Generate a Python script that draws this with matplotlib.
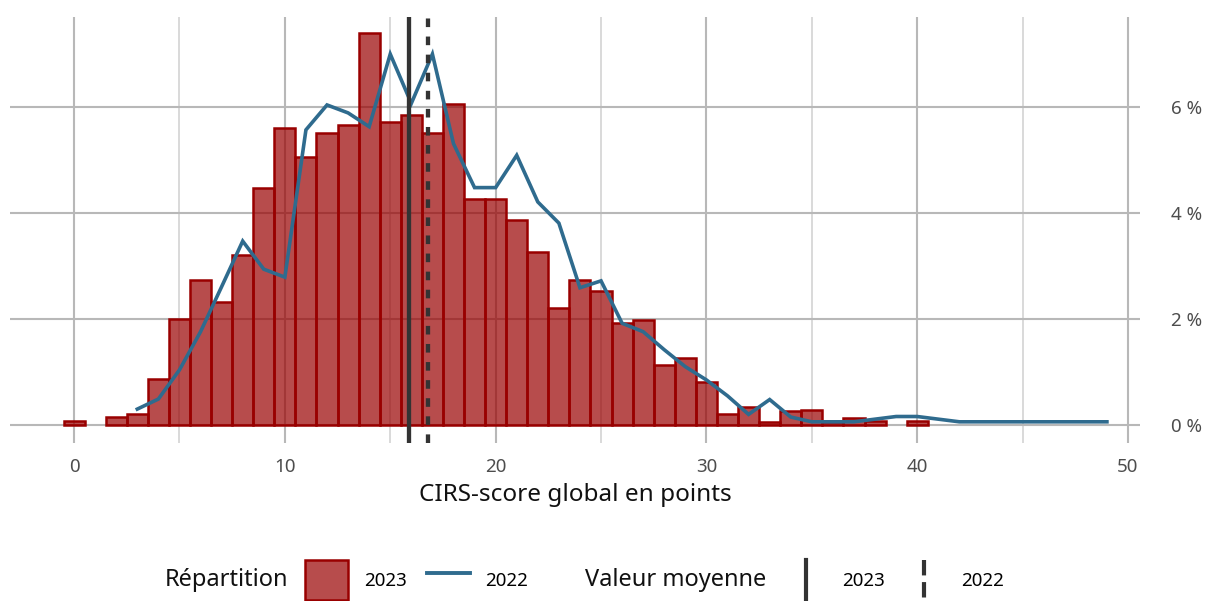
import matplotlib
matplotlib.use("Agg")
import matplotlib.pyplot as plt
from matplotlib.patches import Rectangle
from matplotlib.lines import Line2D
from matplotlib.legend_handler import HandlerBase
from matplotlib.ticker import FuncFormatter, MultipleLocator

plt.rcParams['font.family'] = ['Noto Sans', 'DejaVu Sans']

# ---- data ----
scores_2023 = list(range(0, 41))
share_2023 = [0.07, 0.0, 0.15, 0.21, 0.87, 2.00, 2.74, 2.33, 3.21, 4.47,
              5.60, 5.06, 5.52, 5.66, 7.40, 5.72, 5.85, 5.52, 6.06, 4.26,
              4.26, 3.87, 3.27, 2.20, 2.74, 2.53, 1.92, 1.99, 1.13, 1.26,
              0.82, 0.21, 0.33, 0.06, 0.27, 0.28, 0.05, 0.13, 0.07, 0.0,
              0.07]
scores_2022 = list(range(3, 50))
share_2022 = [0.30, 0.49, 1.04, 1.76, 2.61, 3.47, 2.94, 2.79, 5.57, 6.04,
              5.89, 5.63, 7.00, 6.07, 7.00, 5.31, 4.48, 4.48, 5.09, 4.21,
              3.81, 2.59, 2.72, 1.92, 1.76, 1.42, 1.10, 0.85, 0.55, 0.20,
              0.48, 0.15, 0.06, 0.06, 0.06, 0.11, 0.16, 0.16, 0.11, 0.06,
              0.06, 0.06, 0.06, 0.06, 0.06, 0.06, 0.06]
mean_2023 = 15.9
mean_2022 = 16.8
x_ticks = [0, 10, 20, 30, 40, 50]
y_ticks = [0, 2, 4, 6]
x_label = "CIRS-score global en points"
legend_title_1 = "Répartition"
legend_title_2 = "Valeur moyenne"
year_labels = ["2023", "2022"]

# ---- style ----
bar_color = "#990000"
line_color = "#2f6b8e"
mean_color = "#333333"
grid_major = "#b8b8b8"
grid_minor = "#cfcfcf"
dash = (0, (2.0, 2.2))

fig = plt.figure(figsize=(12.07, 6.01), dpi=100)
ax = fig.add_axes([10/1207, 1-443/601, (1140-10)/1207, (443-17)/601])

xs = [s for s, v in zip(scores_2023, share_2023) if v > 0]
vs = [v for v in share_2023 if v > 0]
ax.bar(xs, vs, width=1.0, color=bar_color, alpha=0.7, edgecolor='none', zorder=2)
ax.bar(xs, vs, width=1.0, fill=False, edgecolor=bar_color, linewidth=1.8, zorder=3)
ax.plot(scores_2022, share_2022, color=line_color, lw=2.6, zorder=4,
        solid_joinstyle='miter')
ax.axvline(mean_2023, color=mean_color, lw=3.1, zorder=5)
ax.axvline(mean_2022, color=mean_color, lw=3.1, ls=dash, zorder=5)

ax.set_xlim(-3.04, 50.57)
ax.set_ylim(-0.34, 7.70)
ax.set_xticks(x_ticks)
ax.xaxis.set_minor_locator(MultipleLocator(5))
ax.set_yticks(y_ticks)
ax.yaxis.tick_right()
ax.yaxis.set_major_formatter(FuncFormatter(lambda v, p: f"{v:.0f} %"))
ax.grid(True, which='major', color=grid_major, lw=1.5, zorder=0)
ax.grid(True, which='minor', axis='x', color=grid_minor, lw=1.1, zorder=0)
ax.set_axisbelow(True)
for s in ax.spines.values():
    s.set_visible(False)
ax.tick_params(axis='both', which='both', length=0, labelsize=13.5, colors='#4d4d4d')
ax.tick_params(axis='x', pad=11)
ax.tick_params(axis='y', pad=22)
ax.set_xlabel(x_label, fontsize=17.5, color='#111111', labelpad=5)


class VLineHandler(HandlerBase):
    def create_artists(self, legend, orig_handle, xdescent, ydescent, width,
                       height, fontsize, trans):
        x = -xdescent + width / 2
        l = Line2D([x, x], [-ydescent + height, -ydescent],
                   color=orig_handle.get_color(), lw=orig_handle.get_linewidth(),
                   linestyle=orig_handle.get_linestyle(), transform=trans)
        return [l]


ly = 1 - 580/601
fig.text(165/1207, ly, legend_title_1, fontsize=17, va='center', ha='left', color='#111111')
fig.text(585/1207, ly, legend_title_2, fontsize=17, va='center', ha='left', color='#111111')

h1 = [Rectangle((0, 0), 1, 1, facecolor=(0.6, 0, 0, 0.7), edgecolor=bar_color, lw=1.8),
      Line2D([], [], color=line_color, lw=2.8)]
leg1 = fig.legend(h1, year_labels, loc='center left', bbox_to_anchor=(305/1207, ly),
                  ncol=2, frameon=False, fontsize=13.5, handlelength=2.3, handleheight=2.9,
                  handletextpad=0.85, columnspacing=1.05, borderpad=0, borderaxespad=0)
h2 = [Line2D([], [], color=mean_color, lw=3.0),
      Line2D([], [], color=mean_color, lw=3.0, ls=dash)]
leg2 = fig.legend(h2, year_labels, loc='center left', bbox_to_anchor=(784/1207, ly),
                  ncol=2, frameon=False, fontsize=13.5, handlelength=2.3, handleheight=2.9,
                  handletextpad=0.8, columnspacing=0.95, borderpad=0, borderaxespad=0,
                  handler_map={Line2D: VLineHandler()})

fig.savefig("out.png", dpi=100)
